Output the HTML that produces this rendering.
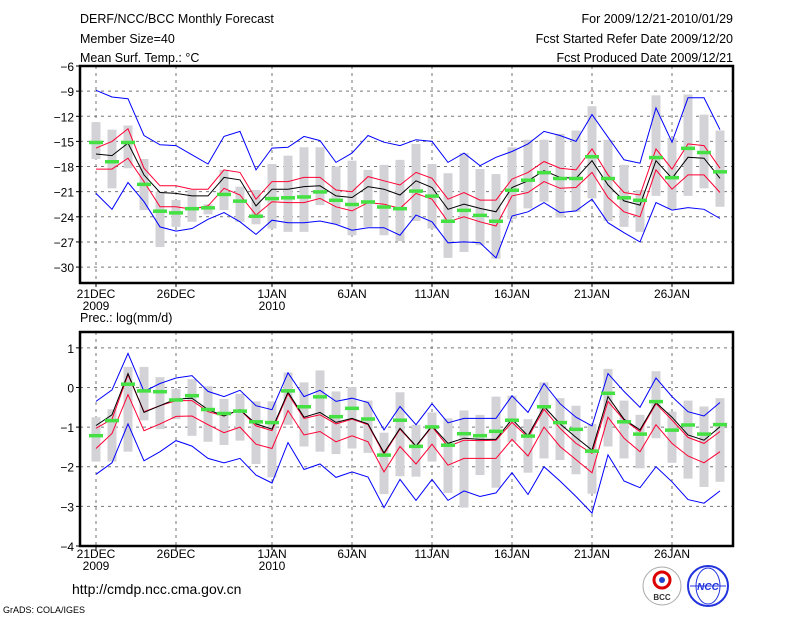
<!DOCTYPE html>
<html><head><meta charset="utf-8"><style>
body{margin:0;background:#fff;}
svg{display:block;font-family:"Liberation Sans",sans-serif;}
</style></head><body>
<svg id="chart" width="800" height="618" viewBox="0 0 800 618" xmlns="http://www.w3.org/2000/svg">
<g font-size="12.5" fill="#000">
<text x="80" y="23">DERF/NCC/BCC Monthly Forecast</text>
<text x="80" y="43">Member Size=40</text>
<text x="80" y="62">Mean Surf. Temp.: °C</text>
<text x="733" y="23" text-anchor="end">For 2009/12/21-2010/01/29</text>
<text x="733" y="43" text-anchor="end">Fcst Started Refer Date 2009/12/20</text>
<text x="733" y="62" text-anchor="end">Fcst Produced Date 2009/12/21</text>
<text x="80" y="322">Prec.: log(mm/d)</text>
<text x="72" y="594" font-size="14">http://cmdp.ncc.cma.gov.cn</text>
<text x="3" y="613" font-size="9">GrADS: COLA/IGES</text>
</g>
<g>
<circle cx="662" cy="586" r="19" fill="#fff" stroke="#aaa"/>
<circle cx="662" cy="580" r="8" fill="none" stroke="#d00" stroke-width="3"/>
<circle cx="662" cy="580" r="3" fill="#24c"/>
<text x="662" y="600" font-size="8" text-anchor="middle" font-weight="bold" fill="#333">BCC</text>
</g>
<g>
<circle cx="708" cy="586" r="20" fill="#fff" stroke="#23d" stroke-width="2"/>
<ellipse cx="708" cy="586" rx="12" ry="18" fill="none" stroke="#23d"/>
<line x1="690" y1="586" x2="726" y2="586" stroke="#23d"/>
<text x="708" y="590" font-size="10" text-anchor="middle" font-style="italic" font-weight="bold" fill="#23d">NCC</text>
</g>
<g id="plots"></g>
</svg>
<script>
const days = [...Array(40).keys()];
const xTickDays = [0,5,11,16,21,26,31,36];
const xTickLabels = ["21DEC","26DEC","1JAN","6JAN","11JAN","16JAN","21JAN","26JAN"];
const xTickYears = {0:"2009",11:"2010"};

const tBlueHi = [-8.9,-9.7,-9.9,-14.3,-15.4,-15.5,-16.6,-17.7,-14.4,-13.8,-18.4,-15.8,-15.7,-14.4,-14.9,-17.5,-16.4,-14.3,-15.1,-15.5,-14.8,-15.0,-17.5,-16.4,-17.9,-16.9,-16.2,-15.3,-13.8,-14.3,-15.0,-11.8,-14.5,-17.2,-17.6,-11.0,-15.1,-9.8,-9.8,-13.6];
const tRedHi = [-15.8,-15.0,-13.5,-18.2,-20.3,-20.3,-20.7,-20.7,-18.4,-18.7,-21.9,-19.8,-19.8,-19.3,-19.3,-20.8,-21.0,-19.2,-19.7,-20.2,-18.7,-19.4,-21.9,-21.1,-22.0,-22.0,-19.5,-18.7,-17.4,-18.2,-18.4,-15.9,-19.0,-21.1,-21.4,-15.9,-18.3,-15.3,-15.5,-18.2];
const tMean = [-16.5,-16.7,-15.2,-19.0,-21.1,-21.2,-21.5,-21.5,-19.3,-19.6,-22.7,-20.7,-20.7,-20.4,-20.3,-21.5,-21.7,-20.4,-20.7,-21.4,-19.7,-20.5,-23.1,-22.5,-23.0,-23.4,-20.5,-19.7,-18.5,-19.3,-19.4,-17.3,-20.2,-22.1,-22.6,-17.3,-19.4,-16.9,-17.0,-19.4];
const tRedLo = [-18.3,-18.3,-17.0,-19.8,-22.8,-22.8,-23.1,-22.7,-20.6,-21.4,-23.8,-22.2,-22.3,-22.3,-21.8,-22.8,-23.3,-22.3,-22.5,-23.0,-21.2,-21.9,-24.6,-24.0,-24.6,-25.1,-21.5,-21.1,-19.8,-20.6,-20.5,-18.7,-21.7,-23.4,-24.0,-18.4,-20.7,-19.0,-19.0,-21.1];
const tBlueLo = [-21.2,-23.1,-19.9,-22.2,-25.2,-25.7,-25.4,-24.3,-23.5,-24.6,-26.1,-24.4,-24.7,-24.7,-24.5,-24.9,-25.6,-25.3,-25.3,-26.2,-23.8,-24.6,-27.1,-27.0,-27.1,-28.9,-23.9,-23.4,-22.3,-23.5,-23.3,-21.9,-24.7,-25.9,-27.0,-22.3,-23.2,-22.9,-23.1,-24.2];
const tEnsMax = [-12.7,-13.6,-13.1,-17.1,-21.0,-22.0,-20.8,-22.5,-18.4,-20.4,-20.8,-17.7,-16.7,-15.7,-15.7,-18.0,-17.3,-18.4,-17.8,-17.2,-15.3,-17.7,-18.8,-16.4,-18.3,-18.9,-15.7,-14.8,-14.8,-14.1,-13.7,-10.8,-14.8,-17.8,-20.8,-9.5,-14.6,-9.4,-11.8,-13.7];
const tEnsMin = [-17.1,-20.6,-18.2,-23.2,-27.6,-25.2,-24.6,-23.7,-23.2,-24.6,-24.9,-25.4,-25.8,-25.8,-22.6,-24.9,-26.2,-25.2,-26.2,-26.9,-24.5,-25.4,-28.9,-28.2,-27.4,-29.0,-24.3,-23.0,-22.2,-24.1,-23.4,-21.8,-24.5,-25.2,-25.8,-21.5,-23.1,-21.5,-20.6,-22.8];
const tObs = [-15.1,-17.4,-15.1,-20.1,-23.3,-23.5,-23.0,-22.9,-21.3,-22.1,-23.9,-21.8,-21.7,-21.6,-21.0,-22.0,-22.5,-22.2,-22.8,-23.0,-20.9,-21.5,-24.5,-23.2,-23.8,-24.5,-20.8,-19.6,-18.7,-19.4,-19.4,-16.8,-19.4,-21.7,-22.0,-16.9,-19.3,-15.8,-16.3,-18.6];
const tTicks = [-6,-9,-12,-15,-18,-21,-24,-27,-30];

const pBlueHi = [-0.35,-0.06,0.86,-0.1,0.1,0.24,0.3,-0.1,-0.23,-0.07,-0.46,-0.56,0.37,-0.23,-0.07,-0.35,-0.27,-0.38,-1.07,-0.48,-0.94,-0.41,-0.89,-0.78,-0.78,-0.78,-0.21,-0.63,0.1,-0.41,-0.75,-0.97,0.35,-0.1,-0.5,0.24,-0.23,-0.61,-0.72,-0.38];
const pRedHi = [-1.03,-0.8,0.32,-0.61,-0.46,-0.33,-0.33,-0.61,-0.72,-0.56,-0.97,-1.09,-0.16,-0.78,-0.69,-0.92,-0.8,-0.94,-1.68,-1.05,-1.49,-0.99,-1.49,-1.33,-1.34,-1.33,-0.88,-1.26,-0.55,-1.03,-1.41,-1.66,-0.35,-0.82,-1.11,-0.41,-0.82,-1.26,-1.41,-1.11];
const pMean = [-0.96,-0.69,0.35,-0.63,-0.46,-0.29,-0.27,-0.56,-0.72,-0.56,-0.92,-1.05,-0.12,-0.75,-0.63,-0.88,-0.78,-0.92,-1.65,-1.03,-1.48,-0.97,-1.41,-1.28,-1.31,-1.31,-0.8,-1.22,-0.48,-0.92,-1.26,-1.58,-0.23,-0.8,-1.07,-0.38,-0.75,-1.2,-1.33,-0.99];
const pRedLo = [-1.54,-1.16,-0.18,-1.09,-0.92,-0.73,-0.72,-0.94,-1.14,-1.0,-1.43,-1.54,-0.58,-1.2,-1.11,-1.37,-1.22,-1.37,-2.13,-1.49,-1.93,-1.43,-1.96,-1.79,-1.79,-1.79,-1.31,-1.73,-1.0,-1.49,-1.82,-2.15,-0.75,-1.28,-1.62,-0.94,-1.41,-1.73,-1.9,-1.62];
const pBlueLo = [-2.19,-1.9,-0.92,-1.85,-1.62,-1.34,-1.48,-1.79,-1.9,-1.79,-2.21,-2.41,-1.39,-2.07,-1.93,-2.27,-2.13,-2.26,-3.03,-2.32,-2.85,-2.32,-2.85,-2.61,-2.75,-2.66,-2.15,-2.7,-2.0,-2.36,-2.75,-3.17,-1.7,-2.36,-2.53,-2.0,-2.38,-2.83,-2.92,-2.61];
const pEnsMax = [-0.75,-0.55,0.52,0.52,0.26,-0.04,0.21,0.03,-0.29,-0.16,-0.35,-0.35,0.38,0.13,0.43,-0.1,0.01,-0.33,-1.14,-0.12,-0.94,-0.63,-0.78,-0.58,-0.69,-0.23,-0.21,-0.8,0.13,-0.27,-0.46,-0.92,0.47,-0.33,-0.69,0.41,-0.61,-0.33,-0.48,-0.27];
const pEnsMin = [-1.87,-1.87,-1.62,-0.83,-1.05,-0.8,-1.22,-1.37,-1.45,-1.34,-1.93,-2.27,-0.94,-1.49,-1.62,-1.68,-1.54,-1.65,-2.69,-2.24,-2.25,-1.87,-2.66,-3.03,-2.21,-2.53,-1.37,-2.15,-1.79,-1.83,-2.19,-2.68,-1.49,-1.79,-2.04,-1.28,-1.9,-2.3,-2.51,-2.38];
const pObs = [-1.21,-0.83,0.09,-0.08,-0.1,-0.31,-0.2,-0.55,-0.65,-0.59,-0.86,-0.88,-0.08,-0.48,-0.23,-0.73,-0.52,-0.79,-1.7,-0.82,-1.48,-0.99,-1.45,-1.16,-1.21,-1.1,-0.82,-1.22,-0.48,-0.88,-1.05,-1.6,-0.14,-0.86,-1.17,-0.35,-1.07,-0.94,-1.17,-0.93];
const pTicks = [1,0,-1,-2,-3,-4];

const NS="http://www.w3.org/2000/svg";
const root=document.getElementById('plots');
function mk(tag,attrs,parent){const e=document.createElementNS(NS,tag);for(const k in attrs)e.setAttribute(k,attrs[k]);(parent||root).appendChild(e);return e;}
const X0=80,X1=733;
function xs(d){return 96+16*d;}

function panel(name,top,bottom,vTop,vBot,ticks,series,ensMax,ensMin,obs,labY){
  const g=mk('g',{});
  
  
  const ys=v=>top+(vTop-v)/(vTop-vBot)*(bottom-top);
  ticks.forEach(t=>{const y=ys(t);
    const l=mk('line',{x1:X0,x2:X1,y1:y,y2:y,stroke:'#777','stroke-dasharray':'3,4','stroke-width':1},g);
    
    
    mk('line',{x1:X0-4,x2:X0,y1:y,y2:y,stroke:'#000'},g);
    const tx=mk('text',{x:X0-6,y:y+5,'text-anchor':'end','font-size':12},g);
    tx.textContent=(t<0?'\u2212':'')+Math.abs(t);
    
    
  });
  xTickDays.forEach((d,i)=>{const x=xs(d);
    const l=mk('line',{x1:x,x2:x,y1:top,y2:bottom,stroke:'#777','stroke-dasharray':'3,4'},g);
    
    
    mk('line',{x1:x,x2:x,y1:bottom,y2:bottom+4,stroke:'#000'},g);
    const tx=mk('text',{x:x,y:labY,'text-anchor':'middle','font-size':12},g);
    tx.textContent=xTickLabels[i];
    
    
    if(xTickYears[d]){const ty=mk('text',{x:x,y:labY+12,'text-anchor':'middle','font-size':12},g);
      ty.textContent=xTickYears[d];
      
      }
  });
  days.forEach(d=>{
    const y1=ys(ensMax[d]),y2=ys(ensMin[d]);
    const r=mk('rect',{x:xs(d)-4.5,y:y1,width:9,height:y2-y1,fill:'#d3d3d7'},g);
    
    
  });
  series.forEach(([arr,col,nm])=>{
    const p=mk('polyline',{points:days.map(d=>xs(d)+','+ys(arr[d]).toFixed(1)).join(' '),fill:'none',stroke:col,'stroke-width':1},g);
    
    
  });
  days.forEach(d=>{
    const r=mk('rect',{x:xs(d)-7,y:ys(obs[d])-1.5,width:14,height:3.5,fill:'#44e044'},g);
    
    
  });
  const f=mk('rect',{x:X0,y:top,width:X1-X0,height:bottom-top,fill:'none',stroke:'#000','stroke-width':2.5},g);
  
  
}
panel('temperature',66,283,-6,-31.9,tTicks,[[tBlueHi,'#0000ff','blue-upper-line'],[tBlueLo,'#0000ff','blue-lower-line'],[tRedHi,'#ff0033','red-upper-line'],[tRedLo,'#ff0033','red-lower-line'],[tMean,'#000','ensemble-mean-line']],tEnsMax,tEnsMin,tObs,298);
panel('precip',332,546,1.4,-4,pTicks,[[pBlueHi,'#0000ff','blue-upper-line'],[pBlueLo,'#0000ff','blue-lower-line'],[pRedHi,'#ff0033','red-upper-line'],[pRedLo,'#ff0033','red-lower-line'],[pMean,'#000','ensemble-mean-line']],pEnsMax,pEnsMin,pObs,558);
</script>
</body></html>
